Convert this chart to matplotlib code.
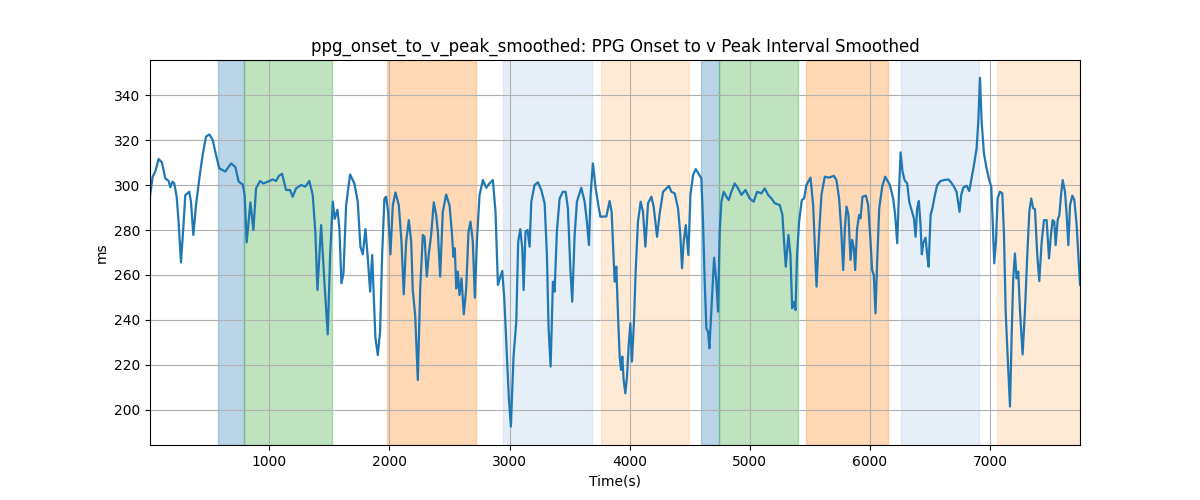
import numpy as np
import matplotlib
matplotlib.use("Agg")
import matplotlib.pyplot as plt

# smoothed onset-to-peak interval
time_s = [6, 28, 50, 78, 106, 133, 161, 175, 194, 208, 228, 244, 264, 283, 300, 333, 347, 367, 389,
          417, 444, 472, 500, 528, 556, 583, 633, 681, 717, 744, 778, 794, 811, 842, 867, 889, 922,
          950, 1000, 1028, 1056, 1078, 1106, 1139, 1172, 1194, 1222, 1264, 1300, 1333, 1361, 1383,
          1400, 1431, 1458, 1486, 1506, 1528, 1544, 1567, 1583, 1600, 1617, 1639, 1672, 1708, 1736,
          1758, 1778, 1800, 1819, 1839, 1856, 1883, 1903, 1922, 1939, 1958, 1972, 1989, 2008, 2028,
          2050, 2078, 2100, 2119, 2139, 2161, 2181, 2194, 2214, 2236, 2256, 2278, 2292, 2311, 2328,
          2347, 2369, 2389, 2403, 2422, 2444, 2472, 2500, 2519, 2533, 2544, 2556, 2569, 2583, 2600,
          2619, 2639, 2658, 2675, 2694, 2711, 2728, 2750, 2778, 2806, 2833, 2861, 2883, 2903, 2922,
          2939, 2956, 2978, 2994, 3011, 3033, 3056, 3072, 3089, 3106, 3117, 3133, 3150, 3167, 3181,
          3208, 3236, 3264, 3292, 3311, 3325, 3342, 3361, 3375, 3394, 3417, 3444, 3467, 3486, 3506,
          3522, 3542, 3561, 3597, 3625, 3644, 3661, 3675, 3694, 3717, 3739, 3756, 3778, 3806, 3833,
          3850, 3861, 3875, 3889, 3903, 3917, 3928, 3939, 3950, 3964, 3978, 3992, 4006, 4019, 4036,
          4050, 4069, 4092, 4111, 4131, 4153, 4181, 4200, 4228, 4250, 4278, 4306, 4328, 4347, 4375,
          4403, 4422, 4436, 4450, 4467, 4489, 4506, 4528, 4550, 4572, 4597, 4611, 4625, 4639, 4653,
          4664, 4681, 4703, 4722, 4736, 4750, 4764, 4783, 4806, 4825, 4847, 4875, 4903, 4931, 4964,
          5000, 5033, 5061, 5097, 5125, 5153, 5181, 5208, 5250, 5272, 5286, 5300, 5322, 5339, 5353,
          5367, 5381, 5394, 5411, 5433, 5453, 5472, 5506, 5528, 5542, 5556, 5575, 5597, 5625, 5661,
          5700, 5722, 5744, 5761, 5778, 5792, 5806, 5822, 5839, 5853, 5867, 5878, 5894, 5911, 5922,
          5939, 5967, 5986, 6006, 6019, 6033, 6047, 6061, 6078, 6103, 6128, 6144, 6167, 6194, 6211,
          6228, 6242, 6256, 6272, 6289, 6311, 6328, 6347, 6367, 6381, 6394, 6408, 6422, 6433, 6444,
          6464, 6478, 6489, 6506, 6522, 6542, 6561, 6589, 6617, 6653, 6672, 6700, 6722, 6736, 6747,
          6761, 6778, 6806, 6828, 6847, 6867, 6889, 6903, 6917, 6931, 6950, 6972, 6994, 7011, 7022,
          7036, 7050, 7064, 7083, 7103, 7117, 7131, 7147, 7167, 7181, 7194, 7208, 7222, 7236, 7250,
          7272, 7292, 7311, 7328, 7344, 7361, 7375, 7394, 7411, 7431, 7450, 7472, 7492, 7508, 7522,
          7536, 7547, 7564, 7578, 7592, 7606, 7625, 7639, 7653, 7667, 7686, 7703, 7722, 7736, 7750]
interval_ms = [295, 303.7, 306, 311.6, 310, 303, 301.8, 299, 301.5, 300.7, 294.8, 283.7, 265.6, 280.7,
               295.5, 297, 292.6, 277.8, 291, 303, 313.3, 321.5, 322.5, 320, 313.3, 307.4, 306,
               309.6, 308, 301.5, 300.3, 295.5, 274.5, 292.3, 280, 298.5, 301.8, 300.7, 301.8,
               302.5, 301.8, 304, 305, 297.8, 297.8, 294.8, 298.5, 300, 299.3, 301.8, 295.5, 279,
               253.3, 282.2, 257, 233.6, 268.9, 292.6, 285, 289, 280.7, 256.3, 260.7, 291, 304.7,
               300.7, 292.6, 272.6, 269.2, 280.4, 268, 252.6, 268.9, 232, 224.4, 235, 269, 294,
               294.8, 288, 269.2, 291, 296.7, 291, 274.8, 251.4, 274.8, 284.4, 274.8, 253.3, 242.2,
               213.3, 254, 277.8, 277, 259.3, 269.6, 277.8, 292.3, 286.7, 279.3, 259.3, 288, 295.8,
               291, 279.3, 268.1, 271.9, 254, 261.5, 251.1, 258.5, 242.5, 254, 279.3, 283.7, 274.8,
               249.9, 274.8, 295.6, 302.2, 298.8, 300.7, 302.2, 288.1, 255.6, 258.8, 261.8, 249.6,
               224.4, 205.2, 192.6, 223.7, 239.3, 274.8, 280.4, 271.9, 253.3, 279.3, 280, 272.6,
               292.6, 300, 301.2, 297.8, 291.9, 268.9, 236.3, 219.3, 257, 252.6, 279.3, 294, 297,
               297, 289.6, 263, 248.1, 277.8, 292.6, 298.8, 292.6, 283.7, 273.3, 295.6, 309.6,
               298.5, 291.1, 285.9, 286, 286, 292.9, 288, 274.8, 257, 263.7, 242.2, 223.7, 217.8,
               223.7, 213.3, 207.4, 214.8, 228.9, 238.5, 221.5, 239.3, 261.5, 283.7, 292.6, 288.1,
               272.6, 291.9, 294.8, 290.4, 277, 287.4, 297, 298.5, 299.6, 297, 296.3, 289.6, 277.8,
               263, 274.8, 282.2, 268.9, 295.6, 304.4, 307.1, 305.2, 303, 283.7, 257, 236.3, 234.8,
               227.4, 245.2, 267.7, 257, 243.7, 279.3, 292.6, 297, 294.8, 293.3, 297, 300.7, 298.5,
               295.6, 297.8, 294, 292.6, 297, 296.3, 298.5, 295.6, 294, 291.9, 291.1, 286.7, 274.8,
               263.7, 277.8, 268.9, 245.2, 248.1, 244.4, 268.9, 283.7, 293.3, 294, 300, 303.3,
               291.1, 273.3, 254.8, 276.3, 295.6, 303.7, 303.3, 304.1, 302.2, 294, 280.7, 262.2,
               280.7, 290.4, 286.7, 266.7, 275.6, 271.9, 262.2, 280.7, 286.7, 285.2, 294.8, 295.3,
               291.1, 274.8, 262.2, 260, 243, 265.9, 289.6, 299.3, 303.7, 302.2, 300, 294, 286.7,
               274.1, 295.6, 314.5, 306, 302.2, 300.7, 292.6, 288.9, 285.2, 277, 289.6, 292.9,
               282.2, 269.2, 274.1, 276.6, 268.9, 263.7, 286.7, 289.9, 295.6, 300, 301.8, 302.2,
               302.5, 301.5, 299.3, 297, 291.9, 288.1, 295.6, 298.8, 299.7, 297.3, 302.9, 308.9,
               316.3, 328.1, 347.7, 328.1, 314.1, 307.4, 302.2, 299.3, 285.2, 265.2, 274.8, 294,
               297, 296.3, 277.8, 243.7, 224.4, 201.5, 233.3, 258.5, 269.6, 258.5, 261.5, 244.4,
               224.7, 244.4, 268.9, 288.1, 294, 289.6, 289.3, 268.9, 257.3, 274.8, 284.4, 284.4,
               267.4, 277.8, 284.4, 283.7, 273.3, 284.4, 286.7, 295.6, 302.2, 297, 286.7, 273.3,
               291.1, 295.3, 293.3, 282.2, 268.9, 255.6]

# shaded segments (start, end, colour)
seg_start = [575, 792, 1983, 2942, 3758, 4592, 4742, 5467, 6258, 7058]
seg_end = [792, 1525, 2717, 3683, 4492, 4742, 5400, 6150, 6908, 7750]
seg_color = ['tab:blue', 'tab:green', 'tab:orange', '#aec7e8', '#ffbb78',
             'tab:blue', 'tab:green', 'tab:orange', '#aec7e8', '#ffbb78']

fig, ax = plt.subplots(figsize=(12, 5))
for s, e, c in zip(seg_start, seg_end, seg_color):
    ax.axvspan(s, e, color=c, alpha=0.3)

ax.plot(time_s, interval_ms, color='C0', linewidth=1.6)
ax.set_xlim(time_s[0], time_s[-1])
ax.set_ylim(184.4, 355.6)
ax.grid(True)
ax.set_title('ppg_onset_to_v_peak_smoothed: PPG Onset to v Peak Interval Smoothed')
ax.set_xlabel('Time(s)')
ax.set_ylabel('ms')

plt.savefig('out.png', dpi=100)
